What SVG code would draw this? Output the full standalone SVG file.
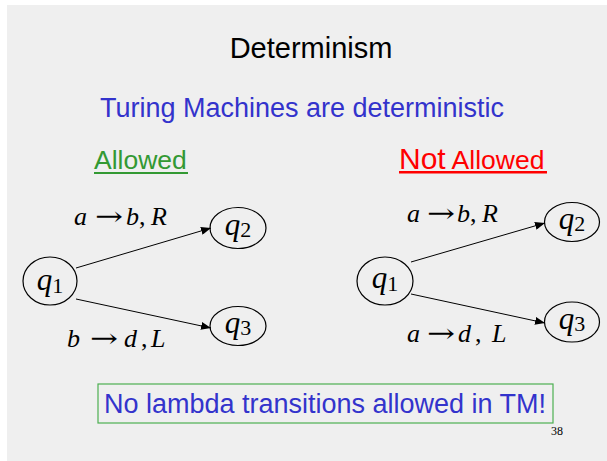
<svg xmlns="http://www.w3.org/2000/svg" width="607" height="461" viewBox="0 0 607 461">
<defs>
<style>
.sans{font-family:"Liberation Sans",Arial,sans-serif}
.serif{font-family:"Liberation Serif","Times New Roman",serif}
.node ellipse{fill:none;stroke:#000;stroke-width:1.2}
.q{font-family:"Liberation Serif","Times New Roman",serif;font-size:31px;fill:#000}
.q .i{font-style:italic}
.q .s{font-size:22px}
.lbl{font-family:"Liberation Serif","Times New Roman",serif;font-size:26px;fill:#000;font-style:italic}
.arr{font-family:"DejaVu Serif",serif;font-size:26px;fill:#000}
.edge{stroke:#000;stroke-width:1;fill:none;marker-end:url(#ah)}
</style>
<marker id="ah" viewBox="0 0 10 8" refX="10" refY="4" markerWidth="10" markerHeight="8" markerUnits="userSpaceOnUse" orient="auto">
<path d="M0,0 L10,4 L0,8 Z" fill="#000"/>
</marker>
</defs>
<rect x="0" y="0" width="607" height="461" fill="#ffffff"/>
<rect x="7" y="5" width="600" height="456" fill="#efefef"/>

<text class="sans" x="311" y="58" font-size="29" text-anchor="middle" fill="#000">Determinism</text>
<text class="sans" x="302" y="117" font-size="27" text-anchor="middle" fill="#3333cc">Turing Machines are deterministic</text>

<text class="sans" x="94" y="169" font-size="26.5" fill="#339933">Allowed</text>
<rect x="94" y="172" width="94" height="2" fill="#339933"/>
<text class="sans" x="399" y="169" fill="#ff0000"><tspan font-size="30">Not</tspan><tspan font-size="26.5"> Allowed</tspan></text>
<rect x="399" y="171" width="148" height="2.5" fill="#ff0000"/>

<g id="connectors">
<line class="edge" x1="76" y1="268" x2="211" y2="228"/>
<line class="edge" x1="76" y1="299" x2="211" y2="328"/>
<line class="edge" x1="411" y1="262" x2="545" y2="223"/>
<line class="edge" x1="411" y1="294" x2="545" y2="323"/>
</g>

<g id="labels">
<text class="lbl" y="225"><tspan x="74">a</tspan><tspan x="126">b</tspan><tspan x="139" font-style="normal">,</tspan><tspan x="151">R</tspan></text>
<text class="arr" x="95" y="225" textLength="28" lengthAdjust="spacingAndGlyphs">→</text>
<text class="lbl" y="347"><tspan x="67">b</tspan><tspan x="124">d</tspan><tspan x="141" font-style="normal">,</tspan><tspan x="151">L</tspan></text>
<text class="arr" x="90" y="347" textLength="28" lengthAdjust="spacingAndGlyphs">→</text>
<text class="lbl" y="222"><tspan x="407">a</tspan><tspan x="457">b</tspan><tspan x="470" font-style="normal">,</tspan><tspan x="482">R</tspan></text>
<text class="arr" x="427" y="222" textLength="28" lengthAdjust="spacingAndGlyphs">→</text>
<text class="lbl" y="342"><tspan x="407">a</tspan><tspan x="458">d</tspan><tspan x="475" font-style="normal">,</tspan><tspan x="492">L</tspan></text>
<text class="arr" x="427" y="342" textLength="28" lengthAdjust="spacingAndGlyphs">→</text>
</g>

<g id="L_q1" class="node"><ellipse cx="50" cy="281" rx="27" ry="24"/><text class="q" x="50" y="290" text-anchor="middle"><tspan class="i">q</tspan><tspan class="s" dy="3">1</tspan></text></g>
<g id="L_q2" class="node"><ellipse cx="238" cy="228" rx="28" ry="20.5"/><text class="q" x="238" y="235" text-anchor="middle"><tspan class="i">q</tspan><tspan class="s" dy="2">2</tspan></text></g>
<g id="L_q3" class="node"><ellipse cx="238" cy="326" rx="28" ry="19.5"/><text class="q" x="238" y="333" text-anchor="middle"><tspan class="i">q</tspan><tspan class="s" dy="2">3</tspan></text></g>

<g id="R_q1" class="node"><ellipse cx="385" cy="281" rx="28" ry="24"/><text class="q" x="385" y="288" text-anchor="middle"><tspan class="i">q</tspan><tspan class="s" dy="3">1</tspan></text></g>
<g id="R_q2" class="node"><ellipse cx="572" cy="222" rx="27.5" ry="19.5"/><text class="q" x="572" y="229" text-anchor="middle"><tspan class="i">q</tspan><tspan class="s" dy="2">2</tspan></text></g>
<g id="R_q3" class="node"><ellipse cx="572" cy="322" rx="27.5" ry="20"/><text class="q" x="572" y="329" text-anchor="middle"><tspan class="i">q</tspan><tspan class="s" dy="2">3</tspan></text></g>

<g id="note">
<rect x="98" y="384" width="455" height="39" fill="none" stroke="#4caf50" stroke-width="1.2"/>
<text class="sans" x="325" y="413" font-size="27" text-anchor="middle" fill="#3333cc">No lambda transitions allowed in TM!</text>
</g>
<text class="serif" x="551" y="435" font-size="12" fill="#000">38</text>
</svg>
